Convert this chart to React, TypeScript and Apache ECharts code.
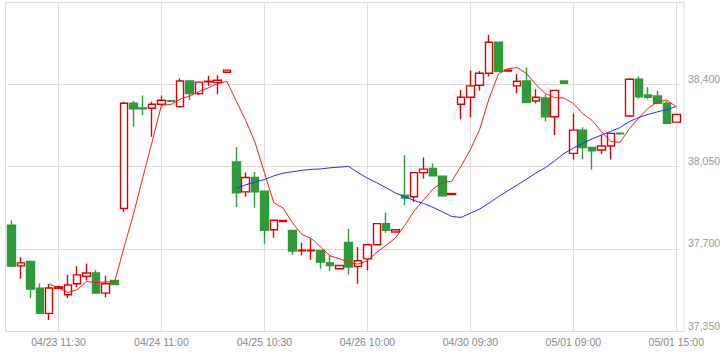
import React, { useEffect, useRef } from "react";
import * as echarts from "echarts";

const tickLabels = ["04/23 11:30", "04/24 11:00", "04/25 10:30", "04/26 10:00", "04/30 09:30", "05/01 09:00", "05/01 15:00"];
const firstLabelIndex = 5;
const labelStep = 11;

const opens = [37800, 37627, 37646, 37532, 37425, 37532, 37504, 37551, 37583, 37597, 37511, 37565,
  37871, 38319, 38299, 38298, 38315, 38330, 38305, 38414, 38360, 38410, 38407, 38451,
  38069, 37942, 38003, 37945, 37781, 37816, 37778, 37691, 37691, 37693, 37640, 37615,
  37727, 37625, 37657, 37717, 37807, 37771, 37928, 37921, 38024, 38042, 38009, 37931,
  38315, 38345, 38396, 38447, 38579, 38456, 38393, 38414, 38329, 38342, 38262, 38414,
  38106, 38205, 38131, 38120, 38137, 38192, 38265, 38421, 38355, 38350, 38319, 38239];
const closes = [37626, 37640, 37528, 37425, 37533, 37538, 37546, 37589, 37597, 37511, 37551, 37548,
  38319, 38296, 38296, 38315, 38332, 38327, 38414, 38360, 38409, 38413, 38417, 38460,
  37938, 38003, 37942, 37778, 37821, 37820, 37690, 37694, 37694, 37643, 37629, 37629,
  37622, 37649, 37717, 37807, 37778, 37781, 37916, 38024, 38039, 38010, 37925, 37935,
  38345, 38393, 38447, 38579, 38454, 38460, 38413, 38322, 38345, 38262, 38374, 38404,
  38205, 38131, 38117, 38137, 38191, 38189, 38421, 38347, 38345, 38319, 38234, 38272];
const lows = [37622, 37572, 37489, 37422, 37397, 37528, 37489, 37536, 37565, 37511, 37494, 37548,
  37856, 38219, 38269, 38177, 38305, 38325, 38300, 38333, 38354, 38393, 38357, 38451,
  37878, 37921, 37875, 37721, 37747, 37815, 37674, 37672, 37653, 37615, 37605, 37614,
  37590, 37551, 37608, 37714, 37768, 37771, 37885, 37899, 37999, 38010, 37921, 37931,
  38251, 38259, 38373, 38433, 38454, 38456, 38362, 38321, 38319, 38241, 38184, 38404,
  38080, 38080, 38037, 38103, 38080, 38189, 38264, 38339, 38336, 38318, 38233, 38239];
const highs = [37821, 37664, 37646, 37553, 37550, 37540, 37589, 37626, 37636, 37610, 37585, 37565,
  38326, 38329, 38352, 38326, 38352, 38332, 38426, 38419, 38411, 38436, 38438, 38460,
  38133, 38024, 38027, 37945, 37822, 37821, 37778, 37726, 37743, 37694, 37672, 37629,
  37785, 37707, 37718, 37807, 37854, 37781, 38098, 38025, 38088, 38063, 38010, 37935,
  38376, 38458, 38456, 38611, 38580, 38460, 38444, 38471, 38379, 38355, 38375, 38414,
  38276, 38217, 38131, 38184, 38191, 38192, 38426, 38433, 38387, 38372, 38329, 38272];

const shortPeriod = 5;
const longPeriod = 25;
const yMin = 37350;
const yMax = 38750;
const yStep = 350;

function movingAverage(values: number[], period: number): (number | string)[] {
  return values.map((_, i) => {
    if (i < period - 1) return "-";
    let s = 0;
    for (let k = i - period + 1; k <= i; k++) s += values[k];
    return +(s / period).toFixed(2);
  });
}

const isLabelIndex = (i: number) => i >= firstLabelIndex && (i - firstLabelIndex) % labelStep === 0;

export default function App() {
  const ref = useRef<HTMLDivElement>(null);
  useEffect(() => {
    if (!ref.current) return;
    const chart = echarts.init(ref.current, undefined, { renderer: "svg" });
    const categories = opens.map((_, i) => String(i));
    const candleData = opens.map((o, i) => [o, closes[i], lows[i], highs[i]]);
    const red = "#e00000";
    const green = "#2f9a3a";
    chart.setOption({
      animation: false,
      grid: { left: 7, right: 43, top: 2, bottom: 26, show: false },
      graphic: [
        {
          type: "rect",
          silent: true,
          shape: { x: 5.5, y: 2.5, width: 678.5, height: 329 },
          style: { fill: "none", stroke: "#dcdcdc", lineWidth: 1 },
          z: -1,
        },
      ],
      xAxis: {
        type: "category",
        data: categories,
        boundaryGap: true,
        axisLine: { show: true, lineStyle: { color: "#dcdcdc" } },
        axisTick: { show: false },
        axisLabel: {
          interval: (i: number) => isLabelIndex(i),
          formatter: (_v: string, i: number) => tickLabels[(i - firstLabelIndex) / labelStep] ?? "",
          color: "#888",
          fontSize: 10.5,
          fontFamily: "Liberation Sans, Arial, sans-serif",
          margin: 5,
        },
        splitLine: {
          show: true,
          interval: (i: number) => isLabelIndex(i),
          alignWithLabel: true,
          lineStyle: { color: "#dcdcdc", width: 1 },
        },
      },
      yAxis: {
        type: "value",
        position: "right",
        min: yMin,
        max: yMax,
        interval: yStep,
        scale: true,
        axisLine: { show: false },
        axisTick: { show: false },
        splitLine: { show: true, lineStyle: { color: "#dcdcdc", width: 1 } },
        axisLabel: {
          showMaxLabel: false,
          color: "#999",
          fontSize: 10.5,
          fontFamily: "Liberation Sans, Arial, sans-serif",
          margin: 7,
          verticalAlign: "bottom",
          formatter: (v: number) => v.toLocaleString("en-US"),
        },
      },
      series: [
        {
          type: "candlestick",
          data: candleData,
          barWidth: 8,
          itemStyle: {
            color: "#ffffff",
            color0: green,
            borderColor: red,
            borderColor0: green,
            borderWidth: 1.4,
          },
          z: 2,
        },
        {
          type: "line",
          data: movingAverage(closes, shortPeriod),
          symbol: "none",
          lineStyle: { color: "#ff1a1a", width: 1 },
          z: 3,
        },
        {
          type: "line",
          data: movingAverage(closes, longPeriod),
          symbol: "none",
          lineStyle: { color: "#2a2aff", width: 1 },
          z: 3,
        },
      ],
    });
    return () => chart.dispose();
  }, []);
  return <div ref={ref} style={{ width: 724, height: 357, position: "absolute", left: 0, top: 0 }} />;
}
